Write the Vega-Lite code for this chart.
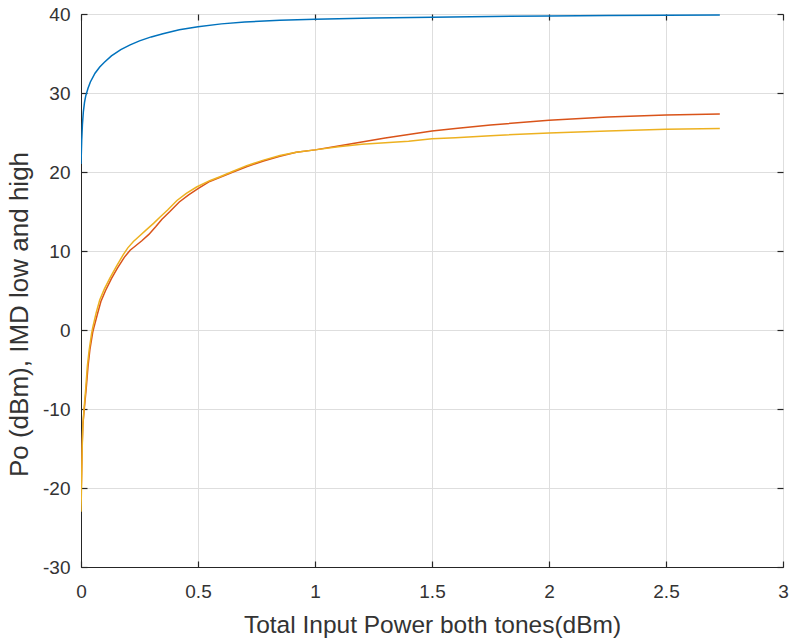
{
  "$schema": "https://vega.github.io/schema/vega-lite/v6.json",
  "width": 702,
  "height": 553,
  "autosize": {"type": "none"},
  "padding": {"left": 81, "top": 14, "right": 6, "bottom": 75},
  "background": "white",
  "config": {
    "view": {"stroke": "#262626", "strokeWidth": 1},
    "font": "Liberation Sans"
  },
  "datasets": {
    "curves": [
      {"s": "Po", "x": 0, "y": 21},
      {"s": "Po", "x": 0.003, "y": 24},
      {"s": "Po", "x": 0.006, "y": 26},
      {"s": "Po", "x": 0.01, "y": 27.6},
      {"s": "Po", "x": 0.015, "y": 28.8},
      {"s": "Po", "x": 0.02, "y": 29.6},
      {"s": "Po", "x": 0.03, "y": 30.6},
      {"s": "Po", "x": 0.04, "y": 31.4},
      {"s": "Po", "x": 0.06, "y": 32.5},
      {"s": "Po", "x": 0.08, "y": 33.3},
      {"s": "Po", "x": 0.1, "y": 33.9},
      {"s": "Po", "x": 0.13, "y": 34.7},
      {"s": "Po", "x": 0.17, "y": 35.5},
      {"s": "Po", "x": 0.21, "y": 36.1},
      {"s": "Po", "x": 0.25, "y": 36.6},
      {"s": "Po", "x": 0.3, "y": 37.1},
      {"s": "Po", "x": 0.35, "y": 37.5},
      {"s": "Po", "x": 0.42, "y": 38.0},
      {"s": "Po", "x": 0.5, "y": 38.4},
      {"s": "Po", "x": 0.6, "y": 38.75},
      {"s": "Po", "x": 0.7, "y": 39.0},
      {"s": "Po", "x": 0.85, "y": 39.2},
      {"s": "Po", "x": 1.0, "y": 39.35},
      {"s": "Po", "x": 1.25, "y": 39.5},
      {"s": "Po", "x": 1.5, "y": 39.6},
      {"s": "Po", "x": 1.75, "y": 39.68},
      {"s": "Po", "x": 2.0, "y": 39.75},
      {"s": "Po", "x": 2.25, "y": 39.8},
      {"s": "Po", "x": 2.5, "y": 39.84},
      {"s": "Po", "x": 2.73, "y": 39.88},

      {"s": "IMD low", "x": 0, "y": -21},
      {"s": "IMD low", "x": 0.002, "y": -19},
      {"s": "IMD low", "x": 0.005, "y": -14.5},
      {"s": "IMD low", "x": 0.008, "y": -12},
      {"s": "IMD low", "x": 0.014, "y": -10},
      {"s": "IMD low", "x": 0.022, "y": -7.5},
      {"s": "IMD low", "x": 0.03, "y": -4.6},
      {"s": "IMD low", "x": 0.038, "y": -2.5},
      {"s": "IMD low", "x": 0.05, "y": -0.3},
      {"s": "IMD low", "x": 0.055, "y": 0.3},
      {"s": "IMD low", "x": 0.07, "y": 2.0},
      {"s": "IMD low", "x": 0.085, "y": 3.6},
      {"s": "IMD low", "x": 0.105, "y": 5.0},
      {"s": "IMD low", "x": 0.13, "y": 6.5},
      {"s": "IMD low", "x": 0.155, "y": 7.8},
      {"s": "IMD low", "x": 0.185, "y": 9.2},
      {"s": "IMD low", "x": 0.21, "y": 10.1},
      {"s": "IMD low", "x": 0.235, "y": 10.7},
      {"s": "IMD low", "x": 0.26, "y": 11.3},
      {"s": "IMD low", "x": 0.29, "y": 12.1},
      {"s": "IMD low", "x": 0.32, "y": 13.1},
      {"s": "IMD low", "x": 0.345, "y": 14.0},
      {"s": "IMD low", "x": 0.38, "y": 15.0},
      {"s": "IMD low", "x": 0.42, "y": 16.2},
      {"s": "IMD low", "x": 0.46, "y": 17.1},
      {"s": "IMD low", "x": 0.5, "y": 17.9},
      {"s": "IMD low", "x": 0.55, "y": 18.8},
      {"s": "IMD low", "x": 0.6, "y": 19.4},
      {"s": "IMD low", "x": 0.65, "y": 20.0},
      {"s": "IMD low", "x": 0.71, "y": 20.7},
      {"s": "IMD low", "x": 0.78, "y": 21.4},
      {"s": "IMD low", "x": 0.85, "y": 22.0},
      {"s": "IMD low", "x": 0.92, "y": 22.5},
      {"s": "IMD low", "x": 1.0, "y": 22.8},
      {"s": "IMD low", "x": 1.1, "y": 23.3},
      {"s": "IMD low", "x": 1.2, "y": 23.8},
      {"s": "IMD low", "x": 1.3, "y": 24.3},
      {"s": "IMD low", "x": 1.4, "y": 24.75},
      {"s": "IMD low", "x": 1.5, "y": 25.2},
      {"s": "IMD low", "x": 1.6, "y": 25.5},
      {"s": "IMD low", "x": 1.75, "y": 25.95},
      {"s": "IMD low", "x": 2.0, "y": 26.55},
      {"s": "IMD low", "x": 2.25, "y": 26.95},
      {"s": "IMD low", "x": 2.5, "y": 27.2},
      {"s": "IMD low", "x": 2.73, "y": 27.35},

      {"s": "IMD high", "x": 0, "y": -23},
      {"s": "IMD high", "x": 0.002, "y": -20},
      {"s": "IMD high", "x": 0.005, "y": -15},
      {"s": "IMD high", "x": 0.008, "y": -12},
      {"s": "IMD high", "x": 0.013, "y": -10},
      {"s": "IMD high", "x": 0.02, "y": -7.5},
      {"s": "IMD high", "x": 0.027, "y": -4.6},
      {"s": "IMD high", "x": 0.035, "y": -2.5},
      {"s": "IMD high", "x": 0.045, "y": -0.5},
      {"s": "IMD high", "x": 0.05, "y": 0.3},
      {"s": "IMD high", "x": 0.065, "y": 2.2},
      {"s": "IMD high", "x": 0.08, "y": 3.8},
      {"s": "IMD high", "x": 0.1, "y": 5.2},
      {"s": "IMD high", "x": 0.124, "y": 6.6},
      {"s": "IMD high", "x": 0.15, "y": 8.0},
      {"s": "IMD high", "x": 0.18, "y": 9.5},
      {"s": "IMD high", "x": 0.2, "y": 10.4},
      {"s": "IMD high", "x": 0.224, "y": 11.2},
      {"s": "IMD high", "x": 0.25, "y": 11.9},
      {"s": "IMD high", "x": 0.28, "y": 12.7},
      {"s": "IMD high", "x": 0.31, "y": 13.5},
      {"s": "IMD high", "x": 0.338, "y": 14.3},
      {"s": "IMD high", "x": 0.37, "y": 15.2},
      {"s": "IMD high", "x": 0.41, "y": 16.4},
      {"s": "IMD high", "x": 0.45, "y": 17.3},
      {"s": "IMD high", "x": 0.494, "y": 18.1},
      {"s": "IMD high", "x": 0.55, "y": 18.9},
      {"s": "IMD high", "x": 0.594, "y": 19.4},
      {"s": "IMD high", "x": 0.65, "y": 20.1},
      {"s": "IMD high", "x": 0.708, "y": 20.8},
      {"s": "IMD high", "x": 0.78, "y": 21.5},
      {"s": "IMD high", "x": 0.85, "y": 22.1},
      {"s": "IMD high", "x": 0.92, "y": 22.5},
      {"s": "IMD high", "x": 1.0, "y": 22.8},
      {"s": "IMD high", "x": 1.1, "y": 23.2},
      {"s": "IMD high", "x": 1.2, "y": 23.5},
      {"s": "IMD high", "x": 1.3, "y": 23.7},
      {"s": "IMD high", "x": 1.4, "y": 23.9},
      {"s": "IMD high", "x": 1.5, "y": 24.2},
      {"s": "IMD high", "x": 1.6, "y": 24.35},
      {"s": "IMD high", "x": 1.75, "y": 24.6},
      {"s": "IMD high", "x": 2.0, "y": 24.95},
      {"s": "IMD high", "x": 2.25, "y": 25.2},
      {"s": "IMD high", "x": 2.5, "y": 25.4},
      {"s": "IMD high", "x": 2.73, "y": 25.5}
    ]
  },
  "data": {"name": "curves"},
  "layer": [
    {
      "mark": {"type": "line", "strokeWidth": 1.5, "clip": true},
      "encoding": {
        "x": {
          "field": "x", "type": "quantitative",
          "scale": {"domain": [0, 3], "nice": false, "zero": false},
          "axis": {
            "title": "Total Input Power both tones(dBm)",
            "values": [0, 0.5, 1, 1.5, 2, 2.5, 3],
            "labelExpr": "'' + datum.value",
            "grid": true, "gridColor": "#dedede", "gridWidth": 1,
            "domainColor": "#262626", "domainWidth": 1,
            "tickColor": "#262626", "tickSize": -6, "tickWidth": 1.2,
            "labelFont": "Liberation Sans", "labelFontSize": 19, "labelColor": "#333333",
            "labelPadding": 21, "labelFlush": false,
            "titleFont": "Liberation Sans", "titleFontSize": 24.5, "titleFontWeight": "normal", "titleColor": "#333333",
            "titleBaseline": "alphabetic", "titleY": 65
          }
        },
        "y": {
          "field": "y", "type": "quantitative",
          "scale": {"domain": [-30, 40], "nice": false, "zero": false},
          "axis": {
            "title": "Po (dBm), IMD low and high",
            "values": [-30, -20, -10, 0, 10, 20, 30, 40],
            "labelExpr": "'' + datum.value",
            "grid": true, "gridColor": "#dedede", "gridWidth": 1,
            "domainColor": "#262626", "domainWidth": 1,
            "tickColor": "#262626", "tickSize": -6, "tickWidth": 1.2,
            "labelFont": "Liberation Sans", "labelFontSize": 19, "labelColor": "#333333",
            "labelPadding": 17, "labelFlush": false,
            "titleFont": "Liberation Sans", "titleFontSize": 26, "titleFontWeight": "normal", "titleColor": "#333333",
            "titleBaseline": "alphabetic", "titleX": -54, "titleY": 300
          }
        },
        "color": {
          "field": "s", "type": "nominal",
          "scale": {"domain": ["Po", "IMD low", "IMD high"], "range": ["#0072BD", "#D95319", "#EDB120"]},
          "legend": null
        },
        "order": {"field": "x", "type": "quantitative"}
      }
    },
    {
      "mark": {"type": "line", "opacity": 0},
      "encoding": {
        "x": {
          "field": "x", "type": "quantitative",
          "scale": {"domain": [0, 3], "nice": false, "zero": false},
          "axis": {
            "orient": "top", "title": null, "labels": false, "grid": false, "domain": false,
            "values": [0, 0.5, 1, 1.5, 2, 2.5, 3],
            "tickColor": "#262626", "tickSize": -6, "tickWidth": 1.2
          }
        },
        "y": {
          "field": "y", "type": "quantitative",
          "scale": {"domain": [-30, 40], "nice": false, "zero": false},
          "axis": {
            "orient": "right", "title": null, "labels": false, "grid": false, "domain": false,
            "values": [-30, -20, -10, 0, 10, 20, 30, 40],
            "tickColor": "#262626", "tickSize": -6, "tickWidth": 1.2
          }
        },
        "detail": {"field": "s", "type": "nominal"}
      }
    }
  ],
  "resolve": {"axis": {"x": "independent", "y": "independent"}}
}
